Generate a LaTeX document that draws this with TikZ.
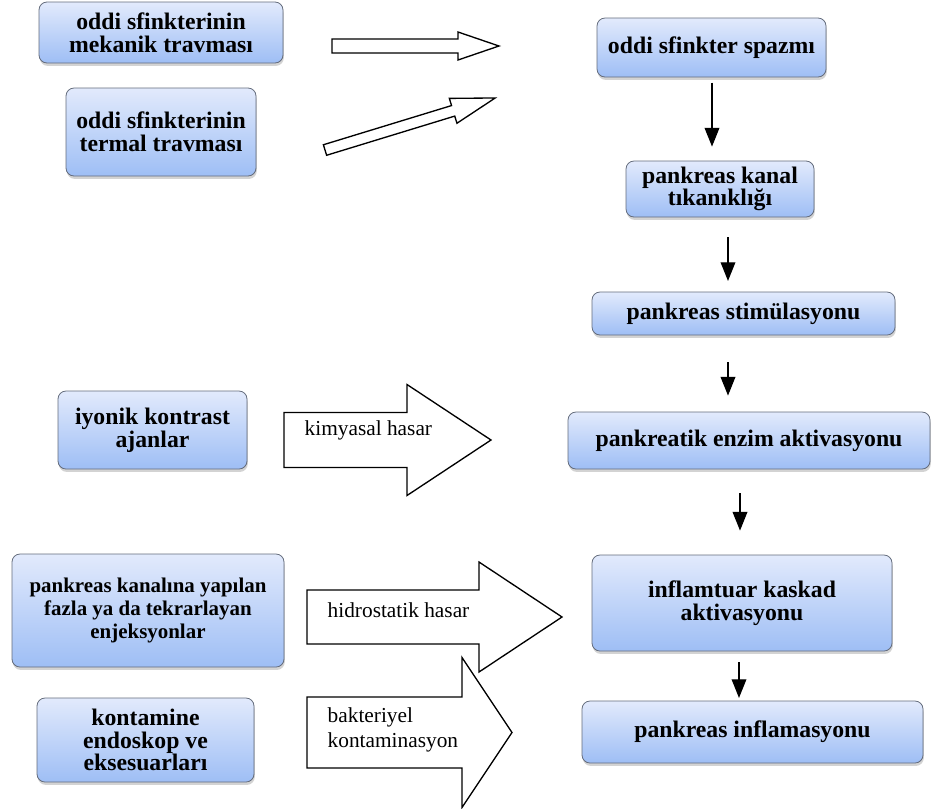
\documentclass[tikz,border=0pt]{standalone}
\usepackage{fontspec}
\setmainfont{Liberation Serif}[BoldFont={Liberation Serif Bold}]
\usetikzlibrary{arrows.meta,shadows}

\definecolor{boxtop}{RGB}{226,234,252}
\definecolor{boxbot}{RGB}{158,190,245}
\definecolor{boxline}{RGB}{100,108,124}

\tikzset{
  cause/.style={draw=boxline, line width=0.6pt, rounded corners=6pt,
    top color=boxtop, bottom color=boxbot, align=center,
    font=\fontsize{17.8}{17}\selectfont\bfseries,
    drop shadow={shadow xshift=0.6pt, shadow yshift=-2.2pt, opacity=0.35}},
  size/.style 2 args={minimum width=#1*0.75pt, minimum height=#2*0.75pt},
  flow/.style={line width=1pt, -{Triangle[width=11pt,length=14pt]}},
  fat/.style={draw=black, line width=1pt, fill=white, line join=miter},
  tag/.style={anchor=west, align=left, font=\fontsize{16}{18.7}\selectfont}
}

% block arrow: tail x, centre y, length, half shaft, half head, head length
\newcommand{\fatarrow}[6]{%
  \draw[fat] (#1,#2) ++(0,-#4) -- ++({#3-#6},0) -- ++(0,{#4-#5})
    -- ++(#6,#5) -- ++(-#6,#5) -- ++(0,{#4-#5}) -- ++({#6-#3},0) -- cycle;}

\begin{document}
\begin{tikzpicture}[x=0.75pt,y=-0.75pt]
  \useasboundingbox (0,0) rectangle (931,808);

  % causes on the left
  \node[cause, size={244}{61}] (mekanik) at (161,32.5) {oddi sfinkterinin\\mekanik travması};
  \node[cause, size={190}{88}] (termal) at (161,132) {oddi sfinkterinin\\termal travması};
  \node[cause, size={189}{78}] (iyonik) at (152.5,430) {iyonik kontrast\\ajanlar};
  \node[cause, size={272}{113}, font=\fontsize{15.7}{17}\selectfont\bfseries] (enjeksiyon) at (148,610.5)
    {pankreas kanalına yapılan\\fazla ya da tekrarlayan\\enjeksyonlar};
  \node[cause, size={217}{84}] (endoskop) at (145.5,740) {kontamine\\endoskop ve\\eksesuarları};

  % chain on the right
  \node[cause, size={229}{59}] (spazm) at (711.5,47.5) {oddi sfinkter spazmı};
  \node[cause, size={188}{56}] (kanal) at (720,189) {pankreas kanal\\tıkanıklığı};
  \node[cause, size={303}{43}] (stim) at (743.5,313.5) {pankreas stimülasyonu};
  \node[cause, size={362}{57}] (enzim) at (749,440.5) {pankreatik enzim aktivasyonu};
  \node[cause, size={300}{96}] (kaskad) at (742,603) {inflamtuar kaskad\\aktivasyonu};
  \node[cause, size={341}{62}] (inflamasyon) at (752.5,732) {pankreas inflamasyonu};

  \draw[flow] ([yshift=-4pt]spazm.south -| 712,0) -- ([yshift=10.5pt]kanal.north -| 712,0);
  \draw[flow] ([yshift=-15pt]kanal.south -| 728,0) -- ([yshift=8pt]stim.north -| 728,0);
  \draw[flow] ([yshift=-20pt]stim.south -| 728,0) -- ([yshift=12pt]enzim.north -| 728,0);
  \draw[flow] ([yshift=-18pt]enzim.south -| 740,0) -- ([yshift=18pt]kaskad.north -| 740,0);
  \draw[flow] ([yshift=-8pt]kaskad.south -| 739,0) -- ([yshift=2pt]inflamasyon.north -| 739,0);

  % block arrows
  \fatarrow{332}{46}{167}{7}{14}{41}
  \begin{scope}[rotate around={17:(325,150)}]
    \fatarrow{325}{150}{178}{5.5}{13}{44}
  \end{scope}
  \fatarrow{284}{440}{207}{27.5}{55.5}{84}
  \fatarrow{307}{617}{255}{27}{55}{83}
  \fatarrow{307}{732.5}{205}{35.5}{75}{50}

  \node[tag] (kimyasal) at (300,430) {kimyasal hasar};
  \node[tag] (hidro) at (323,610) {hidrostatik hasar};
  \node[tag] (bakteri) at (323,730) {bakteriyel\\kontaminasyon};
\end{tikzpicture}
\end{document}
